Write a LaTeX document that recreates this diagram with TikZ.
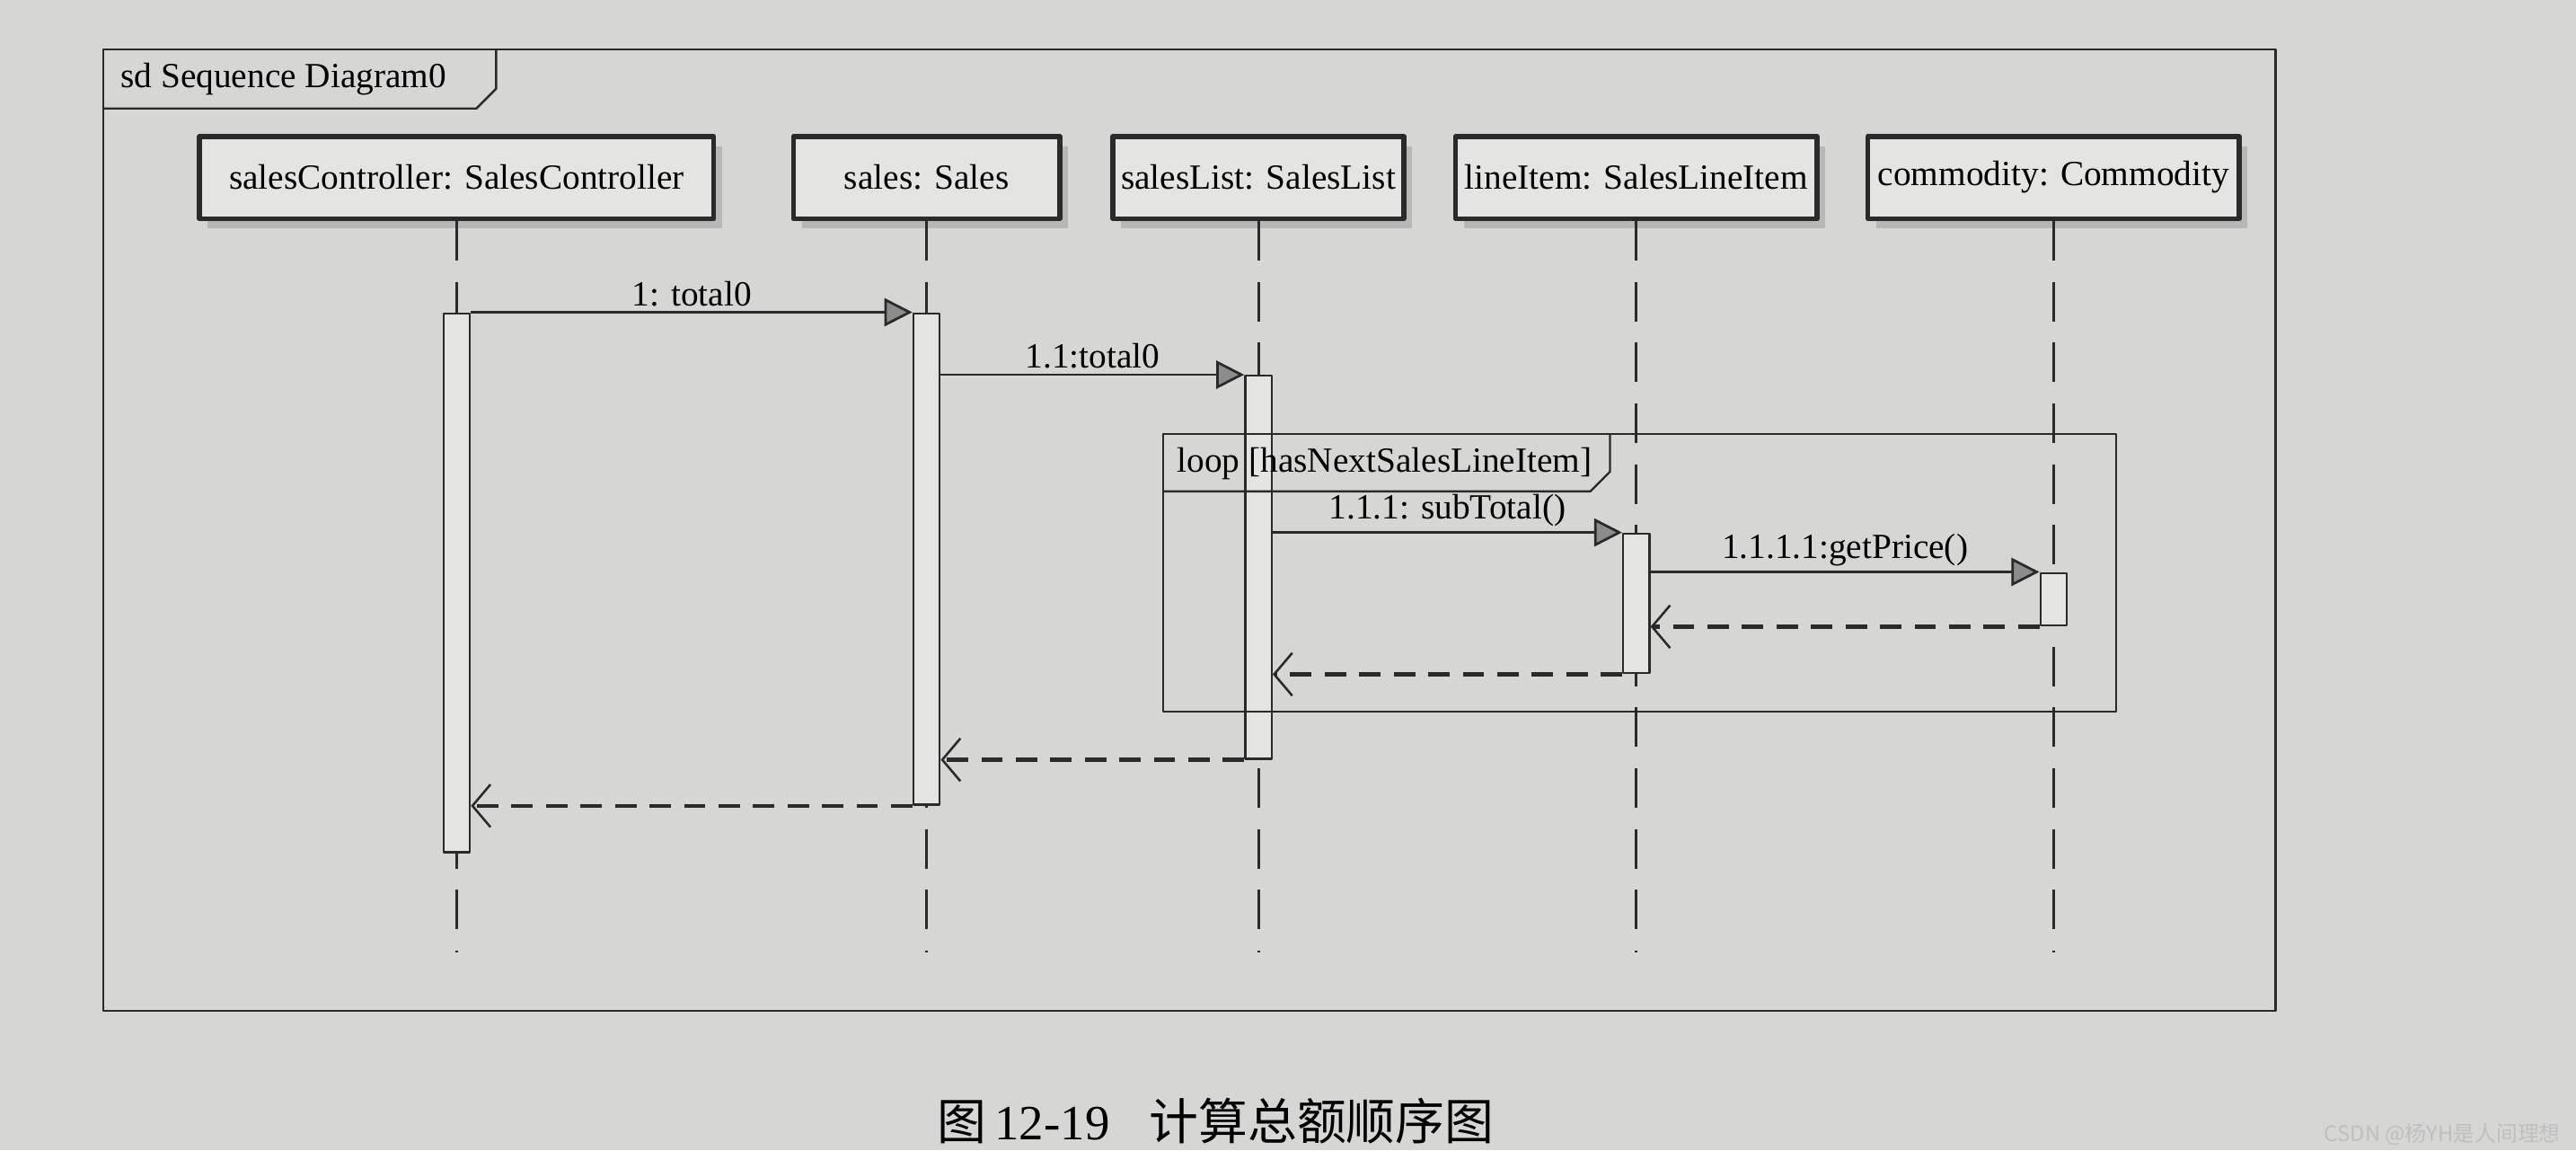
\documentclass[tikz,border=0pt]{standalone}
\usepackage{fontspec}
\setmainfont{Liberation Serif}
\newfontfamily\cjk{Noto Sans CJK SC}
\usetikzlibrary{arrows.meta,shadows}
\definecolor{cPaper}{HTML}{D6D6D4}
\definecolor{cFill}{HTML}{E4E4E2}
\definecolor{cInk}{HTML}{2A2A2A}

\begin{document}
\begin{tikzpicture}[
 x=1pt,y=-1pt,font=\fontsize{21.5}{25}\selectfont,
 line join=round,
 obj/.style={draw=cInk,line width=3pt,fill=cFill,minimum height=50pt,inner sep=0pt,
   drop shadow={shadow xshift=5pt,shadow yshift=-6pt,fill=black!40}},
 life/.style={draw=cInk,line width=1.6pt,dash pattern=on 24pt off 13pt},
 bar/.style={draw=cInk,line width=1.3pt,fill=cFill,minimum width=16pt,inner sep=0pt},
 call/.style={draw=cInk,line width=1.5pt,-{Triangle[length=17pt,width=17pt,fill=black!45]}},
 ret/.style={draw=cInk,line width=2.4pt,dash pattern=on 13pt off 8pt,
   -{Straight Barb[length=11pt,width=26pt,line width=1.4pt]}},
 frame/.style={draw=cInk,line width=1.3pt},
 msg/.style={midway,above=2pt,inner sep=1pt}]
\path[use as bounding box] (0,0) rectangle (1568,700);
\fill[cPaper] (0,0) rectangle (1568,700);

\draw[frame] (63,30) rectangle (1385,615);
\draw[frame] (63,66) -- (290,66) -- (302,54) -- (302,30);
\node[anchor=west] (sdTitle) at (70,48) {sd Sequence Diagram0};

\foreach \nm/\xx/\ww/\lab in {ctl/278/313/salesController: SalesController,
    sal/564/162/sales: Sales, lst/766/177/salesList: SalesList,
    itm/996/220/lineItem: SalesLineItem, com/1250/226/commodity: Commodity} {
  \node[obj,minimum width=\ww pt] (\nm) at (\xx,108) {\lab};
  \draw[life] (\nm.south) -- ++(0,445);
}

\foreach \nm/\xx/\ya/\yb in {ctlB/278/190/518, salB/564/190/489, lstB/766/228/461,
    itmB/996/324/409, comB/1250/348/380} {
  \pgfmathsetmacro{\hh}{\yb-\ya}
  \node[bar,minimum height=\hh pt,anchor=north] (\nm) at (\xx,\ya) {};
}

\draw[frame] (708,264) rectangle (1288,433);
\draw[frame] (708,299) -- (968,299) -- (980,287) -- (980,264);
\node[anchor=west] (loopLab) at (713,282) {loop [hasNextSalesLineItem]};

\draw[call] (ctlB.north east) -- (salB.north west) node[msg] {1: total0};
\draw[call] (salB.east |- lstB.north) -- (lstB.north west) node[msg] {1.1:total0};
\draw[call] (lstB.east |- itmB.north) -- (itmB.north west) node[msg] {1.1.1: subTotal()};
\draw[call] (itmB.east |- comB.north) -- (comB.north west) node[msg] {1.1.1.1:getPrice()};

\draw[ret] (comB.south west) -- (itmB.east |- comB.south);
\draw[ret] (itmB.south west) -- (lstB.east |- itmB.south);
\draw[ret] (lstB.south west) -- (salB.east |- lstB.south);
\draw[ret] (salB.south west) -- (ctlB.east |- salB.south);

\node (cap) at (740,682) {\fontsize{30}{34}\selectfont{\cjk 图}\,12-19\hspace{0.8em}{\cjk 计算总额顺序图}};
\node[anchor=east,font=\cjk\fontsize{13}{15}\selectfont,text=white!75!black] (wm)
  at (1562,690) {CSDN @杨YH是人间理想};
\end{tikzpicture}
\end{document}
